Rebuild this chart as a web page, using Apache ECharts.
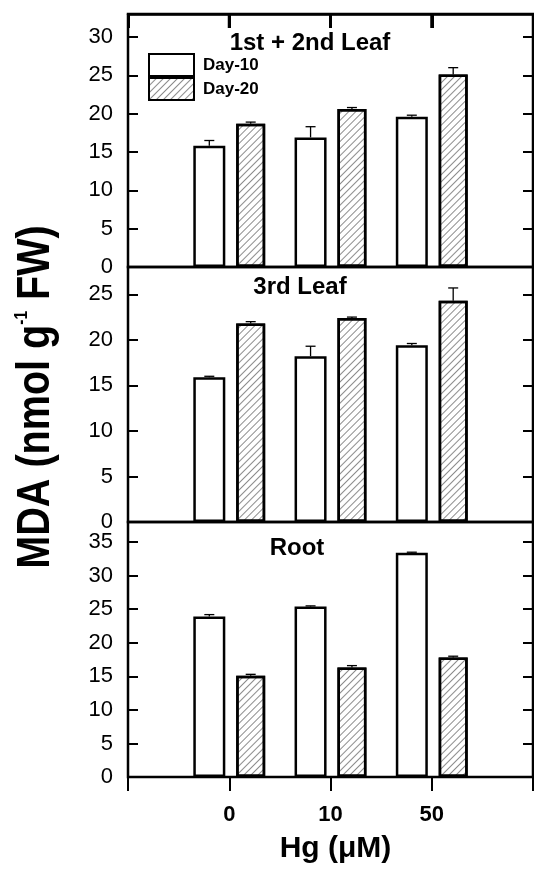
<!DOCTYPE html>
<html>
<head>
<meta charset="utf-8">
<script src="https://cdn.jsdelivr.net/npm/echarts@6/dist/echarts.min.js"></script>
<style>
html, body { margin: 0; padding: 0; background: #fff; }
#chart { width: 534px; height: 869px; }
</style>
</head>
<body>
<div id="chart"></div>
<script>
// Hg 浓度 (μM)
const hgLevels = ['0', '10', '50'];
const seriesNames = ['Day-10', 'Day-20'];
const panelTitles = ['1st + 2nd Leaf', '3rd Leaf', 'Root'];

// 1st + 2nd Leaf
const leaf12Day10 = [15.8, 16.9, 19.6];
const leaf12Day10Err = [0.7, 1.4, 0.2];
const leaf12Day20 = [18.7, 20.6, 25.1];
const leaf12Day20Err = [0.2, 0.2, 0.9];
// 3rd Leaf
const leaf3Day10 = [15.9, 18.2, 19.4];
const leaf3Day10Err = [0.1, 1.1, 0.2];
const leaf3Day20 = [21.8, 22.4, 24.3];
const leaf3Day20Err = [0.2, 0.1, 1.4];
// Root
const rootDay10 = [23.9, 25.4, 33.4];
const rootDay10Err = [0.3, 0.1, 0.1];
const rootDay20 = [15.1, 16.3, 17.8];
const rootDay20Err = [0.2, 0.3, 0.2];

// y 轴上限
const yMax = [33, 28, 38];
const yInterval = 5;

const panels = [
  { d10: leaf12Day10, e10: leaf12Day10Err, d20: leaf12Day20, e20: leaf12Day20Err },
  { d10: leaf3Day10, e10: leaf3Day10Err, d20: leaf3Day20, e20: leaf3Day20Err },
  { d10: rootDay10, e10: rootDay10Err, d20: rootDay20, e20: rootDay20Err },
];

const FONT = '"Liberation Sans", Arial, sans-serif';
const categories = ['', ...hgLevels, ''];

// 柱宽和间距
const barW10 = 32;
const barW20 = 29;
const barGapPct = 0.34;
const widthSum = barW10 * (1 + barGapPct) + barW20;
const off10 = -widthSum / 2 + barW10 / 2;
const off20 = -widthSum / 2 + barW10 * (1 + barGapPct) + barW20 / 2;

const grids = [
  { left: 128, width: 405, top: 14, height: 253 },
  { left: 128, width: 405, top: 267, height: 255 },
  { left: 128, width: 405, top: 522, height: 255 },
].map(g => Object.assign(g, {
  show: true,
  borderColor: '#000',
  borderWidth: 2.5,
  backgroundColor: 'transparent',
  containLabel: false,
  outerBoundsMode: 'none',
}));

// 斜线填充
const hatch = {
  symbol: 'rect',
  symbolSize: 1,
  dashArrayX: [1, 0],
  dashArrayY: [1, 3.5],
  rotation: -Math.PI / 4,
  color: 'rgba(0,0,0,0.45)',
};

const xAxes = grids.map((g, i) => {
  const base = {
    type: 'category',
    gridIndex: i,
    data: categories,
    boundaryGap: false,
    axisLine: { show: false, onZero: false },
    splitLine: { show: false },
  };
  if (i === 0) {
    return Object.assign(base, {
      position: 'top',
      axisLine: { show: true, onZero: false, lineStyle: { color: '#000', width: 2.5 } },
      axisTick: { show: true, inside: true, length: 14, interval: 0, lineStyle: { color: '#000', width: 3 } },
      axisLabel: { show: false },
    });
  }
  if (i === 2) {
    return Object.assign(base, {
      position: 'bottom',
      axisTick: { show: true, inside: false, length: 14, interval: 0, lineStyle: { color: '#000', width: 2 } },
      axisLabel: { interval: 0, margin: 27, color: '#000', fontSize: 22, fontWeight: 'bold', fontFamily: FONT },
      name: 'Hg (μM)',
      nameLocation: 'middle',
      nameGap: 57,
      nameTextStyle: { color: '#000', fontSize: 30, fontWeight: 'bold', fontFamily: FONT, padding: [0, 0, 0, 10] },
    });
  }
  return Object.assign(base, { axisTick: { show: false }, axisLabel: { show: false } });
});

const yAxes = [];
grids.forEach((g, i) => {
  const common = {
    type: 'value',
    gridIndex: i,
    min: 0,
    max: yMax[i],
    interval: yInterval,
    axisLine: { show: false },
    splitLine: { show: false },
    axisTick: { show: true, inside: true, length: 10, lineStyle: { color: '#000', width: 2 } },
  };
  yAxes.push(Object.assign({}, common, {
    position: 'left',
    axisLabel: {
      margin: 15,
      color: '#000',
      fontSize: 22,
      fontFamily: FONT,
      formatter: v => (v % yInterval === 0 ? String(v) : ''),
    },
  }));
  yAxes.push(Object.assign({}, common, { position: 'right', axisLabel: { show: false } }));
});

const pad = arr => ['-', ...arr, '-'];

// 误差线
const errorRender = (params, api) => {
  const xi = api.value(0);
  const v = api.value(1);
  const e = api.value(2);
  const off = api.value(3) === 0 ? off10 : off20;
  const base = api.coord([xi, v]);
  const top = api.coord([xi, v + e]);
  const x = base[0] + off;
  const st = { stroke: '#000', lineWidth: 1.3 };
  return {
    type: 'group',
    children: [
      { type: 'line', shape: { x1: x, y1: base[1], x2: x, y2: top[1] }, style: st },
      { type: 'line', shape: { x1: x - 5, y1: top[1], x2: x + 5, y2: top[1] }, style: st },
    ],
  };
};

// 顶部刻度（按类目位置）
const topTickRender = (params, api) => {
  const p = api.coord([api.value(0), api.value(1)]);
  return {
    type: 'line',
    shape: { x1: p[0], y1: p[1], x2: p[0], y2: p[1] + 14 },
    style: { stroke: '#000', lineWidth: 3 },
  };
};

const series = [];
panels.forEach((p, i) => {
  series.push({
    name: seriesNames[0],
    type: 'bar',
    xAxisIndex: i,
    yAxisIndex: i * 2,
    data: pad(p.d10),
    barWidth: barW10,
    barGap: (barGapPct * 100) + '%',
    itemStyle: { color: '#fff', borderColor: '#000', borderWidth: 2.5 },
    emphasis: { disabled: true },
    animation: false,
  });
  series.push({
    name: seriesNames[1],
    type: 'bar',
    xAxisIndex: i,
    yAxisIndex: i * 2,
    data: pad(p.d20),
    barWidth: barW20,
    barGap: (barGapPct * 100) + '%',
    itemStyle: { color: '#fff', borderColor: '#000', borderWidth: 2.5, decal: hatch },
    emphasis: { disabled: true },
    animation: false,
  });
  const errData = [];
  hgLevels.forEach((h, k) => {
    errData.push([k + 1, p.d10[k], p.e10[k], 0]);
    errData.push([k + 1, p.d20[k], p.e20[k], 1]);
  });
  series.push({
    type: 'custom',
    xAxisIndex: i,
    yAxisIndex: i * 2,
    data: errData,
    renderItem: errorRender,
    encode: { x: 0, y: 1 },
    z: 5,
    animation: false,
  });
});

series.push({
  type: 'custom',
  xAxisIndex: 0,
  yAxisIndex: 0,
  data: hgLevels.map((h, k) => [k + 1, yMax[0]]),
  renderItem: topTickRender,
  encode: { x: 0, y: 1 },
  clip: false,
  silent: true,
  z: 6,
  animation: false,
});

const titlePos = [[310, 43], [300, 287], [297, 548]];

const chart = echarts.init(document.getElementById('chart'), null, { renderer: 'canvas' });
chart.setOption({
  backgroundColor: '#fff',
  animation: false,
  grid: grids,
  xAxis: xAxes,
  yAxis: yAxes,
  legend: {
    orient: 'vertical',
    left: 148,
    top: 53,
    padding: 0,
    itemWidth: 45,
    itemHeight: 22,
    itemGap: 0,
    icon: 'rect',
    selectedMode: false,
    data: seriesNames,
    textStyle: { color: '#000', fontSize: 17, fontWeight: 'bold', fontFamily: FONT, padding: [0, 0, 0, 4] },
  },
  graphic: [
    ...panelTitles.map((t, i) => ({
      type: 'text',
      x: titlePos[i][0],
      y: titlePos[i][1],
      style: { text: t, fill: '#000', font: 'bold 24px ' + FONT, align: 'center', verticalAlign: 'middle' },
    })),
    {
      type: 'text',
      x: 36,
      y: 397,
      rotation: Math.PI / 2,
      scaleX: 0.86,
      style: {
        text: '{a|MDA (nmol g}{s|-1}{a| FW)}',
        align: 'center',
        verticalAlign: 'middle',
        fill: '#000',
        rich: {
          a: { fontSize: 46, fontWeight: 'bold', fontFamily: FONT, fill: '#000' },
          s: { fontSize: 18, fontWeight: 'bold', fontFamily: FONT, fill: '#000', verticalAlign: 'top' },
        },
      },
    },
  ],
  series: series,
});
</script>
</body>
</html>
